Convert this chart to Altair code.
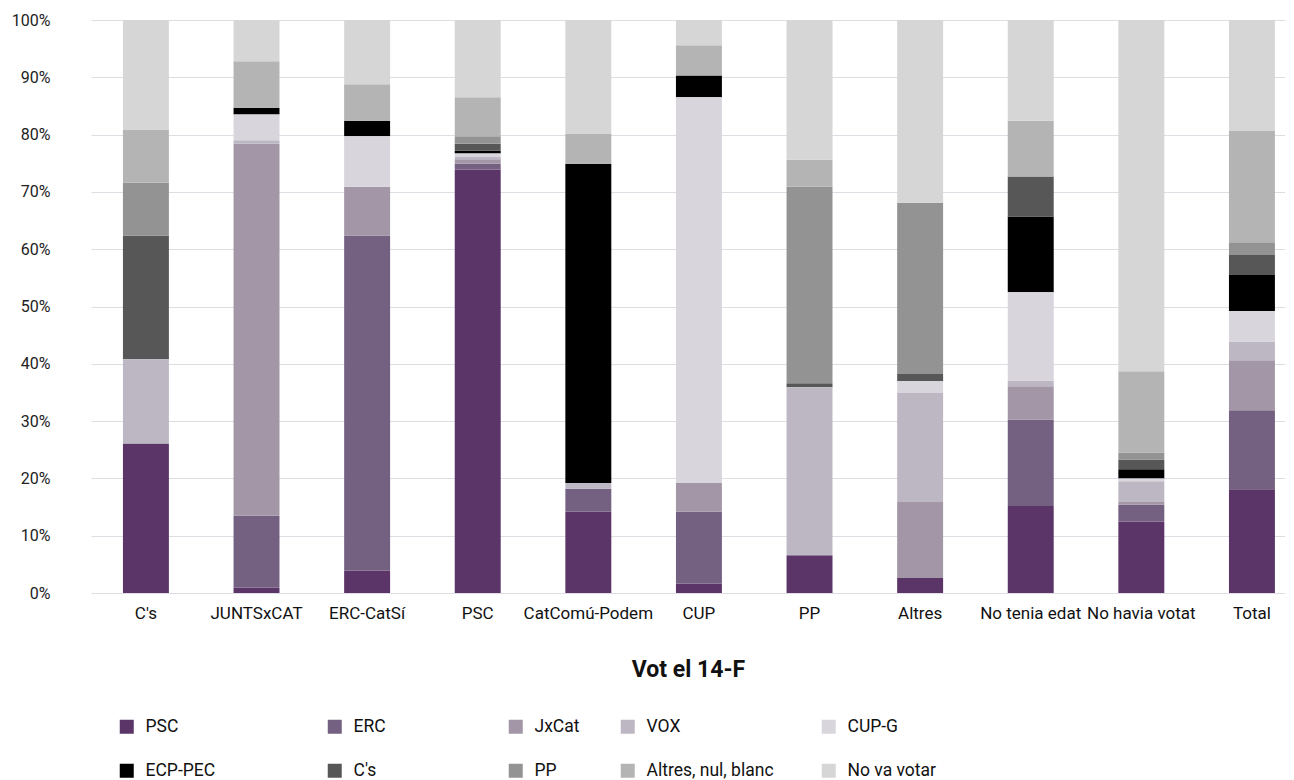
import altair as alt
import pandas as pd

categories = ["C's", "JUNTSxCAT", "ERC-CatSí", "PSC", "CatComú-Podem", "CUP", "PP",
              "Altres", "No tenia edat", "No havia votat", "Total"]
parties = ["PSC", "ERC", "JxCat", "VOX", "CUP-G", "ECP-PEC", "C's", "PP",
           "Altres, nul, blanc", "No va votar"]
colors = ["#5b3468", "#746081", "#a396a7", "#bdb7c3", "#d8d5dd",
          "#000000", "#575757", "#939393", "#b4b4b4", "#d6d6d6"]

psc = [26.1, 0.9, 3.9, 73.9, 14.2, 1.6, 6.6, 2.6, 15.2, 12.5, 18.1]
erc = [0, 12.6, 58.5, 1.0, 4.0, 12.6, 0, 0, 15.1, 2.9, 13.8]
jxcat = [0, 64.9, 8.5, 0.8, 0, 5.0, 0, 13.3, 5.8, 0.5, 8.7]
vox = [14.7, 0.6, 0, 0.4, 1.0, 0, 29.3, 19.0, 1.0, 3.6, 3.3]
cupg = [0, 4.5, 8.8, 0.6, 0, 67.3, 0, 2.1, 15.4, 0.5, 5.3]
ecp = [0, 1.2, 2.7, 0.5, 55.7, 3.8, 0, 0, 13.2, 1.6, 6.3]
cs = [21.6, 0, 0, 1.2, 0, 0, 0.7, 1.2, 7.0, 1.7, 3.5]
pp = [9.2, 0, 0, 1.3, 0, 0, 34.3, 29.9, 0, 1.2, 2.2]
altres = [9.3, 8.1, 6.4, 6.8, 5.3, 5.3, 4.7, 0, 9.7, 14.2, 19.5]
no_va_votar = [19.1, 7.2, 11.2, 13.5, 19.8, 4.4, 24.4, 31.9, 17.6, 61.3, 19.3]

series = [psc, erc, jxcat, vox, cupg, ecp, cs, pp, altres, no_va_votar]

rows = []
for pi, (party, vals) in enumerate(zip(parties, series)):
    for cat, v in zip(categories, vals):
        rows.append({"cat": cat, "party": party, "order": pi, "value": v})
df = pd.DataFrame(rows)

# legend columns (two entries each), as in the reference layout
legend_groups = [[0, 5], [1, 6], [2, 7], [3, 8], [4, 9]]
legend_x = [27, 235, 416, 528, 729]

FONT = "Roboto"

base = alt.Chart(df).transform_window(
    cum="sum(value)", groupby=["cat"], sort=[alt.SortField("order")], frame=[None, 0]
).transform_calculate(start="datum.cum - datum.value")

x_enc = alt.X(
    "cat:N",
    sort=categories,
    scale=alt.Scale(paddingInner=0.5845, paddingOuter=0.19, align=0.76),
    axis=alt.Axis(
        title="Vot el 14-F", labelAngle=0, domain=False, ticks=False,
        labelFont=FONT, labelFontSize=17, labelColor="#111111",
        labelPadding=12, titleFont=FONT, titleFontSize=23,
        titleFontWeight="bold", titleColor="#111111", titlePadding=37,
    ),
)
y_enc = alt.Y(
    "cum:Q",
    scale=alt.Scale(domain=[0, 100]),
    axis=alt.Axis(
        title=None, values=list(range(0, 101, 10)), labelExpr="datum.value + '%'",
        domain=False, ticks=False, grid=True, gridColor="#dedde4", gridWidth=1,
        labelFont=FONT, labelFontSize=16, labelColor="#222222", labelPadding=41,
    ),
)

layers = []
for gi, grp in enumerate(legend_groups):
    names = [parties[i] for i in grp]
    cols = [colors[i] for i in grp]
    layer = base.transform_filter(
        alt.FieldOneOfPredicate(field="party", oneOf=names)
    ).mark_bar().encode(
        x=x_enc,
        y=y_enc,
        y2="start:Q",
        color=alt.Color(
            "party:N",
            scale=alt.Scale(domain=names, range=cols),
            legend=alt.Legend(
                title=None, orient="none", legendX=legend_x[gi], legendY=698,
                direction="vertical", symbolType="square", symbolSize=196,
                symbolStrokeWidth=0, labelFont=FONT, labelFontSize=17.5,
                labelColor="#111111", labelOffset=10, rowPadding=25, padding=0,
            ),
        ),
    )
    layers.append(layer)

chart = alt.layer(*layers).resolve_scale(color="independent").properties(
    width=1194, height=573,
    padding={"left": 3, "top": 4, "right": 0, "bottom": 0},
).configure_view(stroke=None)

chart.save("out.html", embed_options={"renderer": "svg", "actions": False})
